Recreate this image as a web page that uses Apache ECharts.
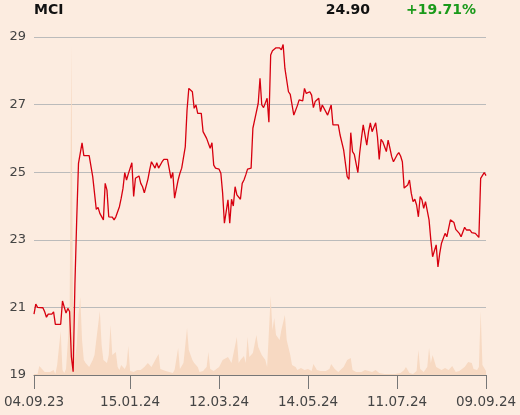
<!DOCTYPE html>
<html>
<head>
<meta charset="utf-8">
<script src="https://cdn.jsdelivr.net/npm/echarts@6/dist/echarts.min.js"></script>
<style>
html,body{margin:0;padding:0;background:#fcece0;}
#c{width:520px;height:415px;}
</style>
</head>
<body>
<div id="c"></div>
<script>
// Trading-day index of each tick label and the labels
const tickIdx = [0, 54, 104, 154, 204, 254];
const tickLabels = ['04.09.23', '15.01.24', '12.03.24', '14.05.24', '11.07.24', '09.09.24'];

// Price series (trading-day index, close)
const priceIdx = [0,1,2,5,6,7,8,10,11,12,15,16,17,18,19,20,21,22,23,24,25,27,28,31,33,35,36,37,39,40,41,42,44,45,46,48,49,50,51,52,53,55,56,57,59,60,61,62,64,65,66,67,68,69,70,72,73,75,77,78,79,81,82,83,85,86,87,88,89,90,91,92,93,94,95,96,97,99,100,101,102,104,105,106,107,109,110,111,112,113,114,116,117,118,119,120,122,123,125,126,127,128,129,131,132,133,134,136,138,139,140,141,143,144,145,146,148,149,150,151,152,153,155,156,157,158,160,161,162,163,165,166,167,168,171,172,173,174,176,177,178,179,180,182,183,184,185,187,188,189,190,192,193,194,195,196,198,199,200,201,202,204,205,206,207,208,210,211,212,213,214,215,216,217,218,219,220,221,222,223,224,226,227,228,229,231,232,233,234,236,237,238,239,240,242,243,245,246,248,249,250,251,253,254];
const price = [20.80,21.10,21.00,20.99,20.87,20.71,20.80,20.80,20.87,20.50,20.50,21.19,21.19,20.83,20.97,20.88,19.54,19.10,21.70,23.60,25.26,25.87,25.49,25.49,24.87,23.90,23.96,23.78,23.59,24.67,24.47,23.68,23.67,23.59,23.68,23.98,24.23,24.52,24.99,24.77,24.95,25.28,24.28,24.82,24.89,24.67,24.57,24.39,24.79,25.07,25.31,25.36,25.12,25.28,25.12,25.31,25.38,25.38,24.82,24.99,24.23,24.77,24.97,25.12,25.75,26.84,27.48,27.48,27.38,26.89,26.99,26.74,26.79,26.74,26.20,26.15,26.00,25.71,25.87,25.21,25.12,25.09,24.97,24.38,23.49,24.18,23.49,24.20,24.00,24.57,24.33,24.20,24.67,24.77,24.92,25.09,25.12,26.30,26.79,27.04,27.78,26.99,26.91,27.19,26.48,28.47,28.59,28.68,28.68,28.62,28.78,28.07,27.38,27.30,27.28,26.69,26.97,27.14,27.19,27.11,27.48,27.33,27.38,27.28,26.91,27.09,27.19,26.79,26.99,26.99,26.69,26.69,26.99,26.40,26.40,26.10,26.10,25.66,24.87,24.79,26.17,25.61,25.53,24.99,25.56,26.00,26.40,25.80,26.20,26.46,26.20,26.46,26.05,25.38,25.97,25.90,25.61,25.95,25.71,25.46,25.31,25.51,25.58,25.48,25.31,24.53,24.62,24.77,24.38,24.13,24.20,24.03,23.68,24.28,24.18,23.93,24.13,24.18,23.59,22.99,22.50,22.85,22.20,22.60,22.90,23.19,23.09,23.34,23.59,23.51,23.31,23.29,23.19,23.09,23.37,23.29,23.29,23.21,23.19,23.19,23.07,24.82,24.99,24.90];

// Volume series (trading-day index, relative volume)
const volIdx = [0,2,3,4,6,7,9,11,12,13,15,16,17,18,19,20,21,22,23,24,25,26,27,28,29,30,31,33,34,35,37,38,39,40,41,42,43,44,45,46,47,48,49,50,51,52,53,54,56,58,60,62,64,66,67,70,71,74,76,78,79,81,82,83,84,86,87,89,90,92,93,95,97,98,99,101,102,104,106,107,109,111,112,114,115,116,118,119,120,121,123,125,126,128,130,131,133,134,135,136,138,139,141,142,144,145,147,148,150,152,154,156,157,159,161,162,164,166,167,169,171,174,176,178,179,181,184,186,188,190,192,194,197,200,203,204,206,208,209,211,213,215,216,217,219,220,221,222,223,224,226,227,229,231,233,234,235,237,239,240,242,244,246,247,249,250,251,252,254];
const volume = [1,1,9,9,3,2,3,5,1,10,44,5,2,6,7,60,330,40,15,30,60,78,35,15,12,10,8,15,20,35,64,30,15,14,12,20,50,20,18,23,8,5,10,12,6,10,29,4,3,5,5,8,12,8,10,21,6,4,3,2,5,27,6,8,12,47,25,15,12,8,3,4,8,23,6,4,5,8,15,14,18,12,10,38,12,15,19,12,38,18,22,40,28,20,15,8,79,45,57,40,35,45,60,35,20,10,8,5,7,5,6,4,11,5,4,3,4,6,11,6,3,8,15,17,5,3,3,5,4,3,5,2,1,1,1,3,2,5,8,2,1,4,25,6,3,5,8,27,12,20,8,7,5,7,5,4,9,3,4,5,8,13,12,6,5,8,64,10,4];

const ticker = 'MCI';
const lastPrice = '24.90';
const change = '+19.71%';

const priceData = priceIdx.map((d, i) => [d, price[i]]);
const volData = volIdx.map((d, i) => [d, volume[i]]);
const FONT = 'DejaVu Sans';

const chart = echarts.init(document.getElementById('c'), null, {renderer: 'canvas'});
chart.setOption({
  backgroundColor: '#fcece0',
  animation: false,
  textStyle: {fontFamily: FONT},
  title: [
    {text: ticker, left: 34, top: 3, padding: 0, textStyle: {fontFamily: FONT, fontSize: 14, fontWeight: 'bold', color: '#111'}},
    {text: lastPrice, right: 150, top: 3, padding: 0, textStyle: {fontFamily: FONT, fontSize: 14, fontWeight: 'bold', color: '#111'}},
    {text: change, left: 406, top: 3, padding: 0, textStyle: {fontFamily: FONT, fontSize: 14, fontWeight: 'bold', color: '#1a9a1a'}}
  ],
  grid: {left: 34, right: 34, top: 37, bottom: 40, containLabel: false},
  xAxis: {
    type: 'value', min: 0, max: 254,
    splitLine: {show: false},
    axisLine: {show: true, lineStyle: {color: '#777', width: 1}},
    axisTick: {show: true, length: 14, lineStyle: {color: '#777'}, customValues: tickIdx},
    axisLabel: {
      customValues: tickIdx, margin: 20, fontSize: 13.5, color: '#444', fontFamily: FONT,
      formatter: v => tickLabels[tickIdx.indexOf(v)] || ''
    }
  },
  yAxis: [
    {
      type: 'value', min: 19, max: 29, interval: 2, position: 'left',
      axisLine: {show: false}, axisTick: {show: false},
      axisLabel: {fontSize: 13, color: '#444', margin: 8, fontFamily: FONT},
      splitLine: {show: true, lineStyle: {color: '#bbb', width: 1}}
    },
    {type: 'value', min: 0, max: 338, show: false, splitLine: {show: false}}
  ],
  series: [
    {
      type: 'line', yAxisIndex: 1, data: volData, showSymbol: false, symbol: 'none',
      lineStyle: {width: 0}, areaStyle: {color: '#f7d9c2', opacity: 1}, z: 1, silent: true
    },
    {
      type: 'line', yAxisIndex: 0, data: priceData, showSymbol: false, symbol: 'none',
      lineStyle: {color: '#d7000f', width: 1.3}, z: 3, silent: true
    }
  ]
});
</script>
</body>
</html>
